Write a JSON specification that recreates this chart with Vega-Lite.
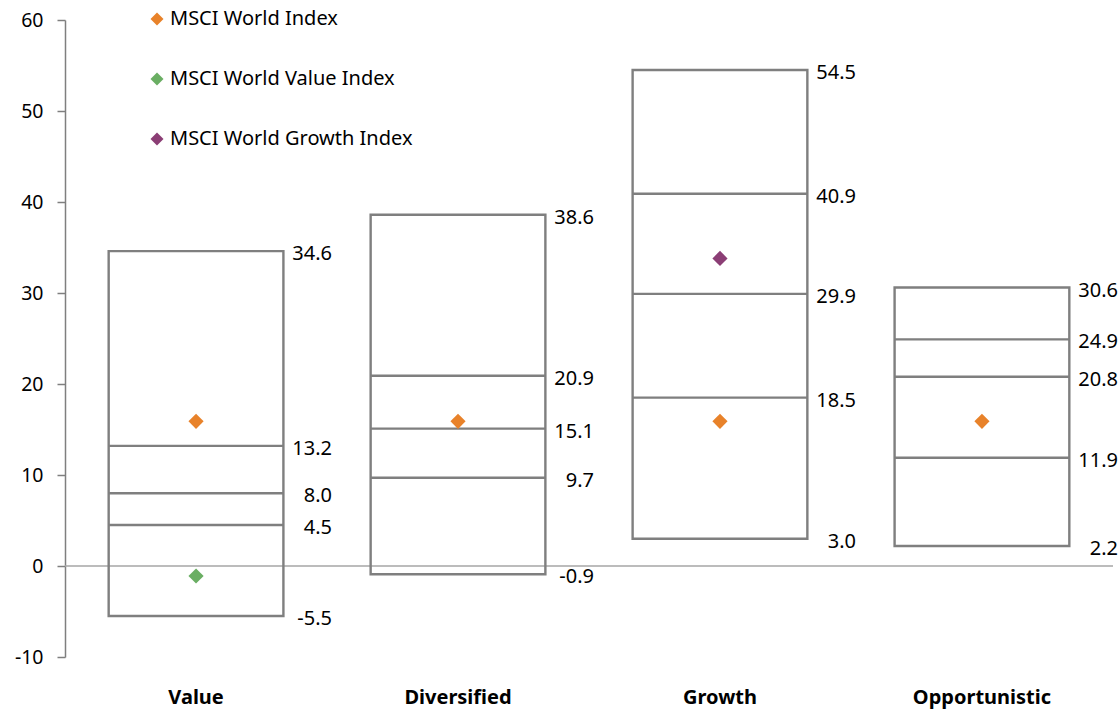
{
  "$schema": "https://vega.github.io/schema/vega-lite/v6.json",
  "autosize": "none",
  "width": 1048,
  "height": 637,
  "padding": {"left": 65, "top": 20, "right": 7, "bottom": 57},
  "background": "white",
  "config": {
    "font": "Noto Sans",
    "view": {"stroke": null},
    "axis": {"labelFont": "Noto Sans", "labelColor": "#000000"},
    "locale": {
      "number": {"decimal": ".", "thousands": ",", "grouping": [3], "currency": ["$", ""], "minus": "-"}
    }
  },
  "datasets": {
    "ranges": [
      {"style": "Value", "low": -5.5, "high": 34.6},
      {"style": "Diversified", "low": -0.9, "high": 38.6},
      {"style": "Growth", "low": 3.0, "high": 54.5},
      {"style": "Opportunistic", "low": 2.2, "high": 30.6}
    ],
    "levels": [
      {"style": "Value", "v": 34.6, "inner": false},
      {"style": "Value", "v": 13.2, "inner": true},
      {"style": "Value", "v": 8.0, "inner": true},
      {"style": "Value", "v": 4.5, "inner": true},
      {"style": "Value", "v": -5.5, "inner": false},
      {"style": "Diversified", "v": 38.6, "inner": false},
      {"style": "Diversified", "v": 20.9, "inner": true},
      {"style": "Diversified", "v": 15.1, "inner": true},
      {"style": "Diversified", "v": 9.7, "inner": true},
      {"style": "Diversified", "v": -0.9, "inner": false},
      {"style": "Growth", "v": 54.5, "inner": false},
      {"style": "Growth", "v": 40.9, "inner": true},
      {"style": "Growth", "v": 29.9, "inner": true},
      {"style": "Growth", "v": 18.5, "inner": true},
      {"style": "Growth", "v": 3.0, "inner": false},
      {"style": "Opportunistic", "v": 30.6, "inner": false},
      {"style": "Opportunistic", "v": 24.9, "inner": true},
      {"style": "Opportunistic", "v": 20.8, "inner": true},
      {"style": "Opportunistic", "v": 11.9, "inner": true},
      {"style": "Opportunistic", "v": 2.2, "inner": false}
    ],
    "indices": [
      {"style": "Value", "index": "MSCI World Index", "ret": 15.9},
      {"style": "Value", "index": "MSCI World Value Index", "ret": -1.1},
      {"style": "Diversified", "index": "MSCI World Index", "ret": 15.9},
      {"style": "Growth", "index": "MSCI World Index", "ret": 15.9},
      {"style": "Growth", "index": "MSCI World Growth Index", "ret": 33.8},
      {"style": "Opportunistic", "index": "MSCI World Index", "ret": 15.9}
    ]
  },
  "encoding": {
    "x": {
      "field": "style",
      "type": "nominal",
      "sort": ["Value", "Diversified", "Growth", "Opportunistic"],
      "scale": {"paddingInner": 0.333, "paddingOuter": 0.1667},
      "axis": {
        "title": null,
        "domain": false,
        "ticks": false,
        "labelAngle": 0,
        "labelFontSize": 20,
        "labelFontWeight": "bold",
        "labelPadding": 30
      }
    }
  },
  "layer": [
    {
      "data": {"values": [{"z": 0}]},
      "mark": {"type": "rule", "color": "#a6a6a6", "strokeWidth": 1.5},
      "encoding": {"x": null, "y": {"field": "z", "type": "quantitative"}}
    },
    {
      "data": {"name": "ranges"},
      "mark": {"type": "rect", "fill": null, "stroke": "#7f7f7f", "strokeWidth": 2.4},
      "encoding": {
        "y": {
          "field": "low",
          "type": "quantitative",
          "scale": {"domain": [-10, 60], "nice": false},
          "axis": {
            "title": null,
            "values": [-10, 0, 10, 20, 30, 40, 50, 60],
            "grid": false,
            "domainColor": "#7f7f7f",
            "domainWidth": 1.5,
            "tickColor": "#7f7f7f",
            "tickWidth": 1.5,
            "tickSize": 8,
            "labelFontSize": 19.5,
            "labelPadding": 14
          }
        },
        "y2": {"field": "high"}
      }
    },
    {
      "data": {"name": "levels"},
      "transform": [{"filter": "datum.inner"}],
      "mark": {"type": "rect", "fill": null, "stroke": "#7f7f7f", "strokeWidth": 2.4},
      "encoding": {
        "y": {"field": "v", "type": "quantitative"},
        "y2": {"field": "v"}
      }
    },
    {
      "data": {"name": "levels"},
      "mark": {"type": "text", "align": "right", "baseline": "middle", "dx": 136, "dy": 3, "fontSize": 20, "color": "#000000"},
      "encoding": {
        "y": {"field": "v", "type": "quantitative"},
        "text": {"field": "v", "type": "quantitative", "format": ".1f"}
      }
    },
    {
      "data": {"name": "indices"},
      "mark": {"type": "point", "shape": "diamond", "filled": true, "size": 230, "opacity": 1},
      "encoding": {
        "y": {"field": "ret", "type": "quantitative"},
        "color": {
          "field": "index",
          "type": "nominal",
          "scale": {
            "domain": ["MSCI World Index", "MSCI World Value Index", "MSCI World Growth Index"],
            "range": ["#e8822a", "#6aae63", "#8b3e75"]
          },
          "legend": {
            "title": null,
            "orient": "none",
            "legendX": 82,
            "legendY": -11,
            "direction": "vertical",
            "symbolType": "diamond",
            "symbolSize": 170,
            "symbolStrokeWidth": 0,
            "labelFontSize": 20,
            "labelColor": "#000000",
            "labelOffset": 3,
            "labelLimit": 0,
            "rowPadding": 40
          }
        }
      }
    }
  ]
}
